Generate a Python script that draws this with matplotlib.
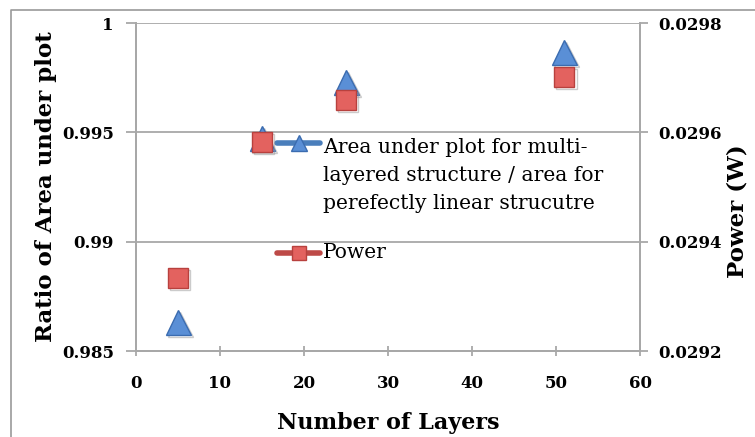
import matplotlib
matplotlib.use('Agg')
import matplotlib.pyplot as plt
import matplotlib.patheffects as pe
from matplotlib.lines import Line2D

# data
layers = [5, 15, 25, 51]
area_ratio = [0.9863, 0.99474, 0.99730, 0.99865]
power = [0.029334, 0.029582, 0.029659, 0.029701]

area_label = 'Area under plot for multi-\nlayered structure / area for\nperefectly linear strucutre'
power_label = 'Power'

left_ticks = [0.985, 0.99, 0.995, 1]
left_ticklabels = ['0.985', '0.99', '0.995', '1']
right_ticks = [0.0292, 0.0294, 0.0296, 0.0298]
right_ticklabels = ['0.0292', '0.0294', '0.0296', '0.0298']
x_ticks = [0, 10, 20, 30, 40, 50, 60]

plt.rcParams['font.family'] = 'serif'
plt.rcParams['font.serif'] = ['DejaVu Serif']
plt.rcParams['font.weight'] = 'bold'
plt.rcParams['xtick.labelsize'] = 12
plt.rcParams['ytick.labelsize'] = 12

grid_col = '#a8a8a8'
blue_face, blue_edge = '#5a8fd6', '#3b6cb0'
red_face, red_edge = '#e3625f', '#b8413e'

fig = plt.figure(figsize=(7.55, 4.37), dpi=100)
# chart frame (only left and top edges are inside the picture)
fig.lines.append(Line2D([11 / 755, 11 / 755, 1.0], [0.0, 1 - 10 / 437, 1 - 10 / 437],
                        transform=fig.transFigure, color='#9a9a9a', linewidth=1.2))

ax = fig.add_axes([136 / 755, 1 - 351 / 437, 504 / 755, 328 / 437])
ax2 = ax.twinx()

shadow = [pe.SimpleLineShadow(offset=(1.5, -1.5), shadow_color='#999999', alpha=0.5), pe.Normal()]

ax.plot(layers, area_ratio, linestyle='none', marker='^', markersize=18,
        markerfacecolor=blue_face, markeredgecolor=blue_edge, markeredgewidth=1,
        path_effects=shadow, zorder=3)
ax2.plot(layers, power, linestyle='none', marker='s', markersize=14.5,
         markerfacecolor=red_face, markeredgecolor=red_edge, markeredgewidth=1,
         path_effects=shadow, zorder=3)

ax.set_xlim(0, 60)
ax.set_ylim(0.985, 1)
ax2.set_ylim(0.0292, 0.0298)

ax.set_xticks(x_ticks)
ax.set_yticks(left_ticks)
ax.set_yticklabels(left_ticklabels)
ax2.set_yticks(right_ticks)
ax2.set_yticklabels(right_ticklabels)

for a in (ax, ax2):
    for s in a.spines.values():
        s.set_color(grid_col)
        s.set_linewidth(1.3)
    a.spines['top'].set_visible(False)

ax.yaxis.grid(True, color=grid_col, linewidth=1.3)
ax.set_axisbelow(True)

ax.tick_params(axis='y', direction='out', length=7, width=1.3, color=grid_col, pad=9)
ax.tick_params(axis='x', direction='inout', length=7, width=1.3, color=grid_col, pad=14)
ax2.tick_params(axis='y', direction='out', length=6, width=1.3, color=grid_col, pad=7)

ax.set_xlabel('Number of Layers', weight='bold', size=16, labelpad=14)
ax.set_ylabel('Ratio of Area under plot', weight='bold', size=16.5)
ax.yaxis.set_label_coords(-0.157, 0.5)
ax2.set_ylabel('Power (W)', weight='bold', size=16.5)
ax2.yaxis.set_label_coords(1.172, 0.427)

# legend drawn by hand so the handle sits on the first text line
ax.add_line(Line2D([0.28, 0.366], [0.634, 0.634], transform=ax.transAxes, color='#4a7ebb',
                   linewidth=4, solid_capstyle='round', zorder=5))
ax.add_line(Line2D([0.323], [0.634], transform=ax.transAxes, linestyle='none', marker='^',
                   markersize=11, markerfacecolor=blue_face, markeredgecolor=blue_edge, zorder=6))
ax.add_line(Line2D([0.28, 0.366], [0.299, 0.299], transform=ax.transAxes, color='#bd4a47',
                   linewidth=4, solid_capstyle='round', zorder=5))
ax.add_line(Line2D([0.323], [0.299], transform=ax.transAxes, linestyle='none', marker='s',
                   markersize=10, markerfacecolor=red_face, markeredgecolor=red_edge, zorder=6))

ax.text(0.371, 0.648, area_label, transform=ax.transAxes, weight='normal', size=14.6,
        va='top', linespacing=1.58, zorder=6)
ax.text(0.371, 0.299, power_label, transform=ax.transAxes, weight='normal', size=14.6,
        va='center', zorder=6)

fig.savefig('out.png', dpi=100)
